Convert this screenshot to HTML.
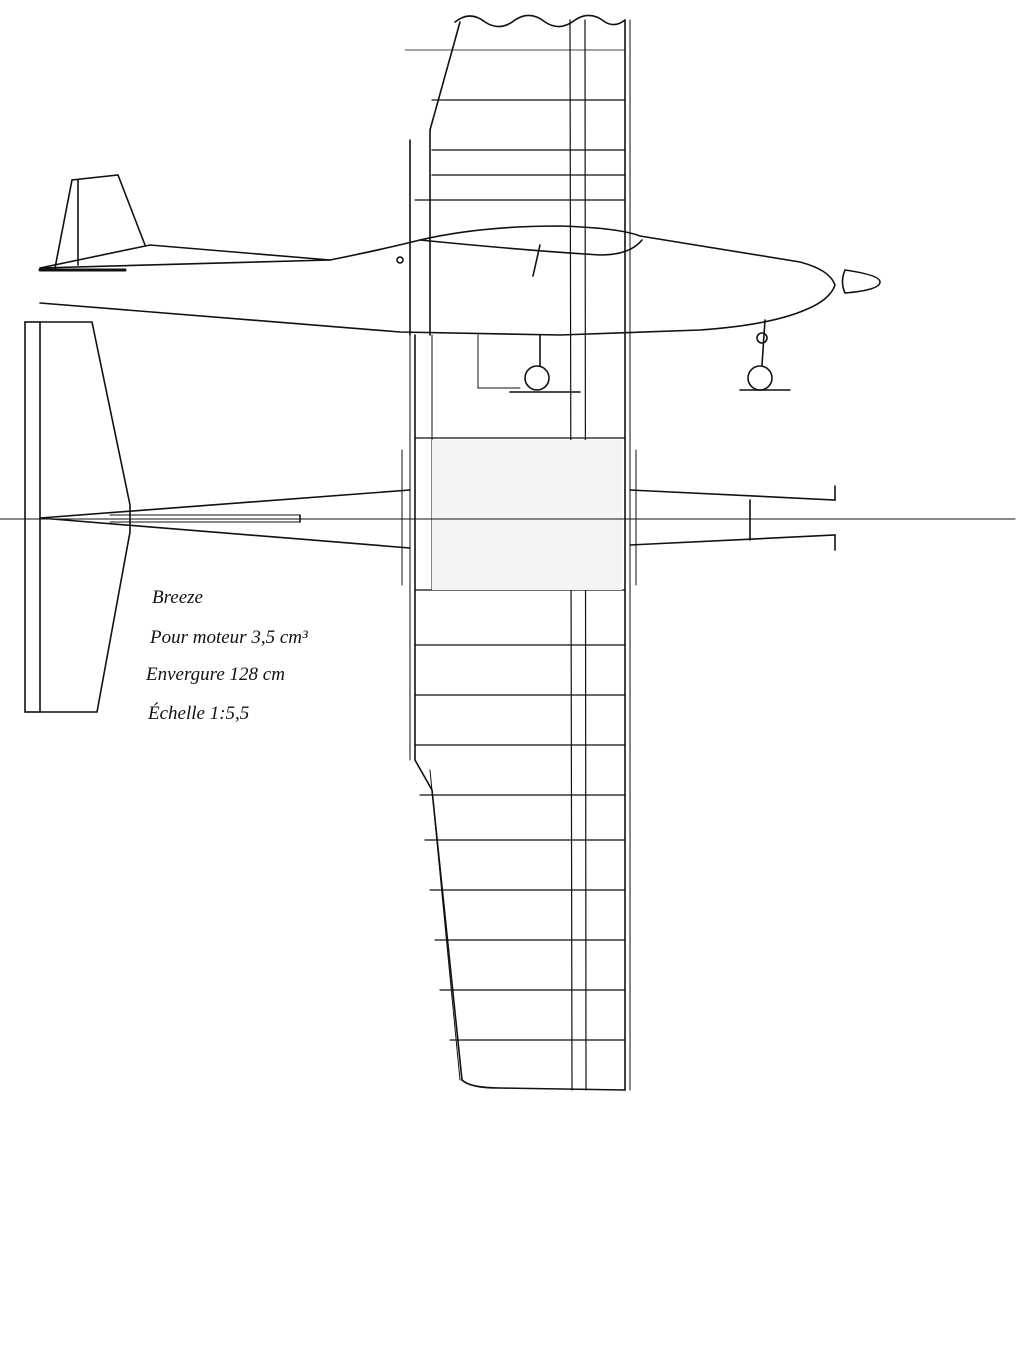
<!DOCTYPE html>
<html><head><meta charset="utf-8"><style>
html,body{margin:0;padding:0;background:#fff;width:1024px;height:1350px;overflow:hidden}
svg{display:block}
text{font-family:"Liberation Serif",serif;font-style:italic;font-size:19px;fill:#111}
</style></head><body>
<svg width="1024" height="1350" viewBox="0 0 1024 1350" xmlns="http://www.w3.org/2000/svg">
<g stroke="#111" fill="none" stroke-width="1.6" stroke-linecap="round">
<!-- wing -->
<path d="M455 22 Q470 10 485 22 Q500 32 515 20 Q530 10 545 22 Q560 32 575 20 Q590 10 605 22 Q615 28 625 20"/>
<line x1="625" y1="20" x2="625" y2="1090"/>
<line x1="630" y1="20" x2="630" y2="1090" stroke-width="1"/>
<line x1="460" y1="22" x2="430" y2="130"/>
<line x1="430" y1="130" x2="430" y2="335"/>
<line x1="410" y1="140" x2="410" y2="335"/>
<line x1="410" y1="335" x2="410" y2="760" stroke-width="1"/>
<line x1="415" y1="335" x2="415" y2="760"/>
<line x1="432" y1="335" x2="432" y2="590" stroke-width="1"/>
<path d="M415 760 L432 790 L462 1080"/>
<path d="M430 770 L460 1080" stroke-width="1"/>
<path d="M462 1080 Q470 1088 500 1088 L625 1090"/>
<line x1="570" y1="20" x2="572" y2="1090" stroke-width="1.2"/>
<line x1="585" y1="20" x2="586" y2="1090" stroke-width="1.2"/>
<line x1="432" y1="100" x2="625" y2="100" stroke-width="1.2"/>
<line x1="432" y1="150" x2="625" y2="150" stroke-width="1.2"/>
<line x1="432" y1="175" x2="625" y2="175" stroke-width="1.2"/>
<line x1="415" y1="200" x2="625" y2="200" stroke-width="1.2"/>
<line x1="405" y1="50" x2="625" y2="50" stroke-width="0.8"/>
<line x1="415" y1="438" x2="625" y2="438" stroke-width="1.2"/>
<line x1="415" y1="590" x2="625" y2="590" stroke-width="1.2"/>
<g stroke-width="1.2">
<line x1="415" y1="645" x2="625" y2="645"/>
<line x1="415" y1="695" x2="625" y2="695"/>
<line x1="415" y1="745" x2="625" y2="745"/>
<line x1="420" y1="795" x2="625" y2="795"/>
<line x1="425" y1="840" x2="625" y2="840"/>
<line x1="430" y1="890" x2="625" y2="890"/>
<line x1="435" y1="940" x2="625" y2="940"/>
<line x1="440" y1="990" x2="625" y2="990"/>
<line x1="450" y1="1040" x2="625" y2="1040"/>
</g>
<rect x="432" y="440" width="190" height="150" fill="#f4f4f4" stroke="none"/>
<line x1="402" y1="450" x2="402" y2="585" stroke-width="1"/>
<line x1="636" y1="450" x2="636" y2="585" stroke-width="1"/>
<!-- center line -->
<line x1="0" y1="519" x2="1015" y2="519" stroke-width="1"/>
<!-- fuselage side -->
<path d="M40 268 L150 245 L330 260 Q380 250 420 240 Q480 226 560 226 Q620 228 640 236 L800 262 Q830 270 835 285 Q830 300 805 310 Q770 325 700 330 L560 335 L400 332 L40 303"/>
<path d="M330 260 L40 268"/>
<path d="M420 240 Q520 250 600 255 Q630 255 642 240"/>
<line x1="540" y1="245" x2="533" y2="276"/>
<circle cx="400" cy="260" r="3"/>
<path d="M55 268 L72 180 L118 175 L145 245"/>
<line x1="78" y1="180" x2="78" y2="265"/>
<line x1="40" y1="270" x2="125" y2="270" stroke-width="3"/>
<path d="M845 270 Q880 275 880 282 Q880 290 845 293 Q840 282 845 270"/>
<!-- gear -->
<line x1="540" y1="335" x2="540" y2="366"/>
<circle cx="537" cy="378" r="12"/>
<line x1="510" y1="392" x2="580" y2="392"/>
<line x1="765" y1="320" x2="762" y2="365"/>
<circle cx="762" cy="338" r="5"/>
<circle cx="760" cy="378" r="12"/>
<line x1="740" y1="390" x2="790" y2="390"/>
<line x1="478" y1="335" x2="478" y2="388" stroke-width="1"/>
<line x1="478" y1="388" x2="520" y2="388" stroke-width="1"/>
<!-- tail top -->
<rect x="25" y="322" width="15" height="390"/>
<path d="M40 322 L92 322 L130 505 L130 532 L97 712 L40 712"/>
<!-- fuselage top -->
<path d="M40 518 L410 490 M40 518 L410 548"/>
<line x1="110" y1="515" x2="300" y2="515" stroke-width="1"/>
<line x1="110" y1="522" x2="300" y2="522" stroke-width="1"/>
<line x1="300" y1="515" x2="300" y2="522"/>
<path d="M630 490 L835 500 L835 486 M630 545 L835 535 L835 550"/>
<path d="M750 500 L750 540"/>
</g>
<text x="152" y="603">Breeze</text>
<text x="150" y="643">Pour moteur 3,5 cm³</text>
<text x="146" y="680">Envergure  128 cm</text>
<text x="148" y="719">Échelle  1:5,5</text>
</svg>
</body></html>
